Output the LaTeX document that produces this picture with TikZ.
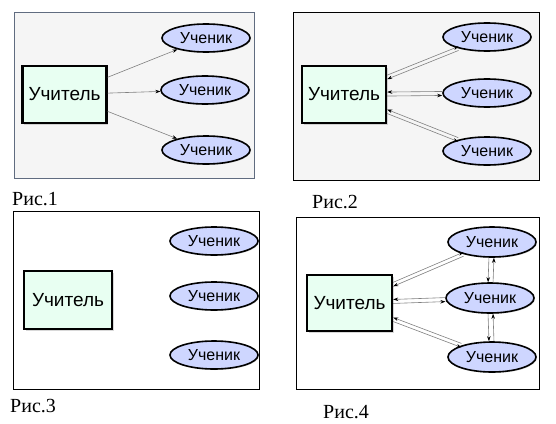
\documentclass[tikz,border=0pt]{standalone}
\usepackage{fontspec}
\setmainfont{Liberation Serif}
\setsansfont{Liberation Sans}
\usepackage{tikz}
\usetikzlibrary{arrows.meta,shapes.geometric,shadows}
\definecolor{teacherfill}{RGB}{232,255,242}
\definecolor{pupilfill}{RGB}{206,214,255}
\definecolor{framegray}{RGB}{96,108,128}
\definecolor{linkgray}{RGB}{128,128,128}
\tikzset{
	teacher/.style={draw=black, line width=2.4pt, fill=teacherfill, minimum width=84pt, minimum height=57pt, inner sep=0pt, font=\sffamily\fontsize{19}{22}\selectfont, drop shadow={opacity=0.3, shadow xshift=1.5pt, shadow yshift=-1.5pt}},
	pupil/.style={ellipse, draw=black, line width=1.6pt, fill=pupilfill, minimum width=88pt, minimum height=28pt, inner sep=0pt, font=\sffamily\fontsize{16}{19}\selectfont, drop shadow={opacity=0.25, shadow xshift=1pt, shadow yshift=-1pt}},
	link/.style={draw=linkgray, line width=0.6pt, -{Stealth[black, length=5pt, width=3.5pt]}},
	frame/.style={draw=black, line width=0.8pt},
	caption/.style={anchor=base west, inner sep=0pt, font=\rmfamily\fontsize{20}{24}\selectfont}
}

\begin{document}
\begin{tikzpicture}[x=1pt, y=-1pt]
		%%%%% START %%%%%
		
		\useasboundingbox[fill=white] (0, 0) rectangle (556, 423);
		
		% Рис.1
		\draw[frame, draw=framegray, fill=black!4] (14, 12) rectangle (254, 178);
		\node[teacher] (t1) at (64.5, 94.5) {Учитель};
		\node[pupil] (p11) at (206, 38) {Ученик};
		\node[pupil] (p12) at (205, 90) {Ученик};
		\node[pupil] (p13) at (206, 150) {Ученик};
		\draw[link] (t1) -- (p11);
		\draw[link] (t1) -- (p12);
		\draw[link] (t1) -- (p13);
		\node[caption] (c1) at (12, 205) {Рис.1};
		
		% Рис.2
		\draw[frame, fill=black!4] (293, 12) rectangle (539, 180);
		\node[teacher] (t2) at (344, 94.5) {Учитель};
		\node[pupil] (p21) at (487, 37) {Ученик};
		\node[pupil] (p22) at (487, 93) {Ученик};
		\node[pupil] (p23) at (487, 151) {Ученик};
		\draw[link, transform canvas={yshift=2pt}] (t2) -- (p21);
		\draw[link, transform canvas={yshift=-2pt}] (p21) -- (t2);
		\draw[link, transform canvas={yshift=2pt}] (p22) -- (t2);
		\draw[link, transform canvas={yshift=-2pt}] (t2) -- (p22);
		\draw[link, transform canvas={yshift=2pt}] (p23) -- (t2);
		\draw[link, transform canvas={yshift=-2pt}] (t2) -- (p23);
		\node[caption] (c2) at (312, 208) {Рис.2};
		
		% Рис.3
		\draw[frame] (13, 211) rectangle (259, 389);
		\node[teacher, minimum width=88pt, minimum height=58pt] (t3) at (68, 300) {Учитель};
		\node[pupil] (p31) at (214, 241) {Ученик};
		\node[pupil] (p32) at (214, 296) {Ученик};
		\node[pupil] (p33) at (214, 355) {Ученик};
		\node[caption] (c3) at (10, 412) {Рис.3};
		
		% Рис.4
		\draw[frame] (296, 217) rectangle (539, 389);
		\node[teacher, minimum width=85pt, minimum height=56pt] (t4) at (349.5, 303) {Учитель};
		\node[pupil, minimum height=30pt] (p41) at (492, 242) {Ученик};
		\node[pupil, minimum height=30pt] (p42) at (490, 298) {Ученик};
		\node[pupil, minimum height=30pt] (p43) at (492, 357) {Ученик};
		\draw[link, transform canvas={yshift=2pt}] (t4) -- (p41);
		\draw[link, transform canvas={yshift=-2pt}] (p41) -- (t4);
		\draw[link, transform canvas={yshift=2pt}] (p42) -- (t4);
		\draw[link, transform canvas={yshift=-2pt}] (t4) -- (p42);
		\draw[link, transform canvas={yshift=2pt}] (p43) -- (t4);
		\draw[link, transform canvas={yshift=-2pt}] (t4) -- (p43);
		\draw[link, transform canvas={xshift=-2.5pt}] (p41) -- (p42);
		\draw[link, transform canvas={xshift=2.5pt}] (p42) -- (p41);
		\draw[link, transform canvas={xshift=-2.5pt}] (p42) -- (p43);
		\draw[link, transform canvas={xshift=2.5pt}] (p43) -- (p42);
		\node[caption] (c4) at (323, 418) {Рис.4};
		
		%%%%% END %%%%%
\end{tikzpicture}
\end{document}
